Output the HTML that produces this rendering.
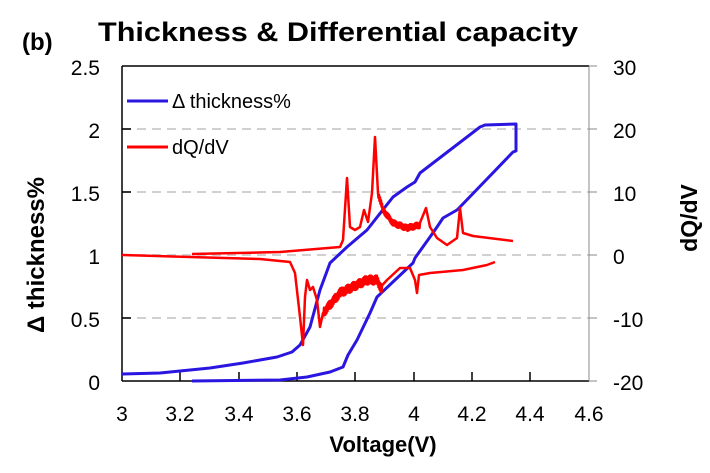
<!DOCTYPE html>
<html><head><meta charset="utf-8"><style>
html,body{margin:0;padding:0;background:#fff;}
svg{display:block;font-family:"Liberation Sans",sans-serif;}
</style></head><body>
<svg id="s" width="710" height="473" viewBox="0 0 710 473" xmlns="http://www.w3.org/2000/svg">
<rect width="710" height="473" fill="#fff"/>
<g stroke="#d0d0d0" stroke-width="2" stroke-dasharray="9,6">
<line x1="122" y1="129" x2="589" y2="129"/>
<line x1="122" y1="192" x2="589" y2="192"/>
<line x1="122" y1="255" x2="589" y2="255"/>
<line x1="122" y1="318" x2="589" y2="318"/>
</g>
<line x1="122" y1="66" x2="589" y2="66" stroke="#000" stroke-width="1.5"/>
<line x1="122" y1="66" x2="122" y2="381" stroke="#000" stroke-width="1.5"/>
<line x1="122" y1="381" x2="589" y2="381" stroke="#000" stroke-width="1.5"/>
<line x1="589" y1="66" x2="589" y2="381" stroke="#888" stroke-width="1"/>
<g stroke="#000" stroke-width="1.5">
<line x1="122" y1="129" x2="131" y2="129"/><line x1="122" y1="192" x2="131" y2="192"/>
<line x1="122" y1="255" x2="131" y2="255"/><line x1="122" y1="318" x2="131" y2="318"/>
<line x1="180" y1="381" x2="180" y2="372"/><line x1="239" y1="381" x2="239" y2="372"/>
<line x1="297" y1="381" x2="297" y2="372"/><line x1="355" y1="381" x2="355" y2="372"/>
<line x1="414" y1="381" x2="414" y2="372"/><line x1="472" y1="381" x2="472" y2="372"/>
<line x1="530" y1="381" x2="530" y2="372"/>
</g>
<g stroke="#888" stroke-width="1">
<line x1="589" y1="66" x2="597" y2="66"/><line x1="589" y1="129" x2="597" y2="129"/>
<line x1="589" y1="192" x2="597" y2="192"/><line x1="589" y1="255" x2="597" y2="255"/>
<line x1="589" y1="318" x2="597" y2="318"/><line x1="589" y1="381" x2="597" y2="381"/>
</g>
<g font-size="21" fill="#000" text-anchor="end">
<text x="100" y="75">2.5</text><text x="100" y="138">2</text><text x="100" y="201">1.5</text>
<text x="100" y="264">1</text><text x="100" y="327">0.5</text><text x="100" y="390">0</text>
</g>
<g font-size="21" fill="#000" text-anchor="start">
<text x="613" y="75">30</text><text x="613" y="138">20</text><text x="613" y="201">10</text>
<text x="613" y="264">0</text><text x="613" y="327">-10</text><text x="613" y="390">-20</text>
</g>
<g font-size="21" fill="#000" text-anchor="middle">
<text x="122" y="421">3</text><text x="180" y="421">3.2</text><text x="239" y="421">3.4</text>
<text x="297" y="421">3.6</text><text x="355" y="421">3.8</text><text x="414" y="421">4</text>
<text x="472" y="421">4.2</text><text x="530" y="421">4.4</text><text x="589" y="421">4.6</text>
</g>
<text x="22" y="50" font-size="24" font-weight="bold">(b)</text>
<text x="98" y="41" font-size="27" font-weight="bold" textLength="480" lengthAdjust="spacingAndGlyphs">Thickness &amp; Differential capacity</text>
<text x="383" y="452" font-size="22" font-weight="bold" text-anchor="middle">Voltage(V)</text>
<text transform="translate(44,255) rotate(-90)" font-size="24" font-weight="bold" text-anchor="middle">Δ thickness%</text>
<text transform="translate(697,218) rotate(-90)" font-size="23" font-weight="bold" text-anchor="middle">dQ/dV</text>
<line x1="127" y1="101" x2="168" y2="101" stroke="#2a16e0" stroke-width="3"/>
<text x="172" y="108" font-size="20">Δ thickness%</text>
<line x1="127" y1="147" x2="168" y2="147" stroke="#f00" stroke-width="3"/>
<text x="172" y="154" font-size="20">dQ/dV</text>
<g fill="none" stroke-width="3" stroke-linejoin="round">
<path stroke="#2a16e0" d="M122,374 L160,373 L210,368 L243,363 L277,357 L292,352 L300,345 L310,327 L320,290 L330,263 L347,247 L367,230 L393,197 L407,187 L415,182 L420,173 L480,127 L485,125 L516,124 L516,151 L513,152 L460,207 L457,210 L443,218 L437,227 L430,237 L415,258 L413,263 L377,297 L370,313 L357,340 L348,355 L343,367 L330,372 L307,377 L280,380 L192,381"/>
<path id="r1" stroke="#f00" stroke-width="2.5" d=""/>
<path id="r2" stroke="#f00" stroke-width="2.5" d=""/>
</g>
</svg>
<script>
function build(pts,n0,n1,amp){
  var d="M"+pts[0][0]+","+pts[0][1];
  for(var i=1;i<pts.length;i++){
    var a=pts[i-1],b=pts[i];
    if(a[0]>=n0&&b[0]<=n1){
      var steps=Math.max(1,Math.round((b[0]-a[0])/0.5));
      for(var k=1;k<=steps;k++){
        var t=k/steps,x=a[0]+(b[0]-a[0])*t,y=a[1]+(b[1]-a[1])*t;
        var j=(k%2?1:-1)*amp*(0.5+0.5*Math.abs(Math.sin(k*1.3+i)));
        d+=" L"+x.toFixed(1)+","+(y+j).toFixed(1);
      }
    } else d+=" L"+b[0]+","+b[1];
  }
  return d;
}
var c=[[192,254],[280,252],[340,247],[343,240],[347,178],[350,227],[355,230],[360,227],[364,210],[368,222],[372,193],[375,137],[378,193],[383,210],[393,223],[407,228],[420,225],[426,208],[430,227],[437,238],[447,245],[457,238],[460,208],[463,233],[473,236],[513,241]];
var dpts=[[122,255],[190,257],[260,259],[290,262],[295,273],[300,317],[303,345],[305,297],[307,280],[310,290],[313,287],[317,300],[320,327],[323,313],[340,293],[367,280],[377,280],[382,290],[387,280],[400,268],[410,268],[415,280],[417,293],[419,275],[430,273],[463,270],[487,265],[495,262]];
document.getElementById("r1").setAttribute("d",build(c,378,425,3));
document.getElementById("r2").setAttribute("d",build(dpts,323,383,4.5));
</script>
</body></html>
